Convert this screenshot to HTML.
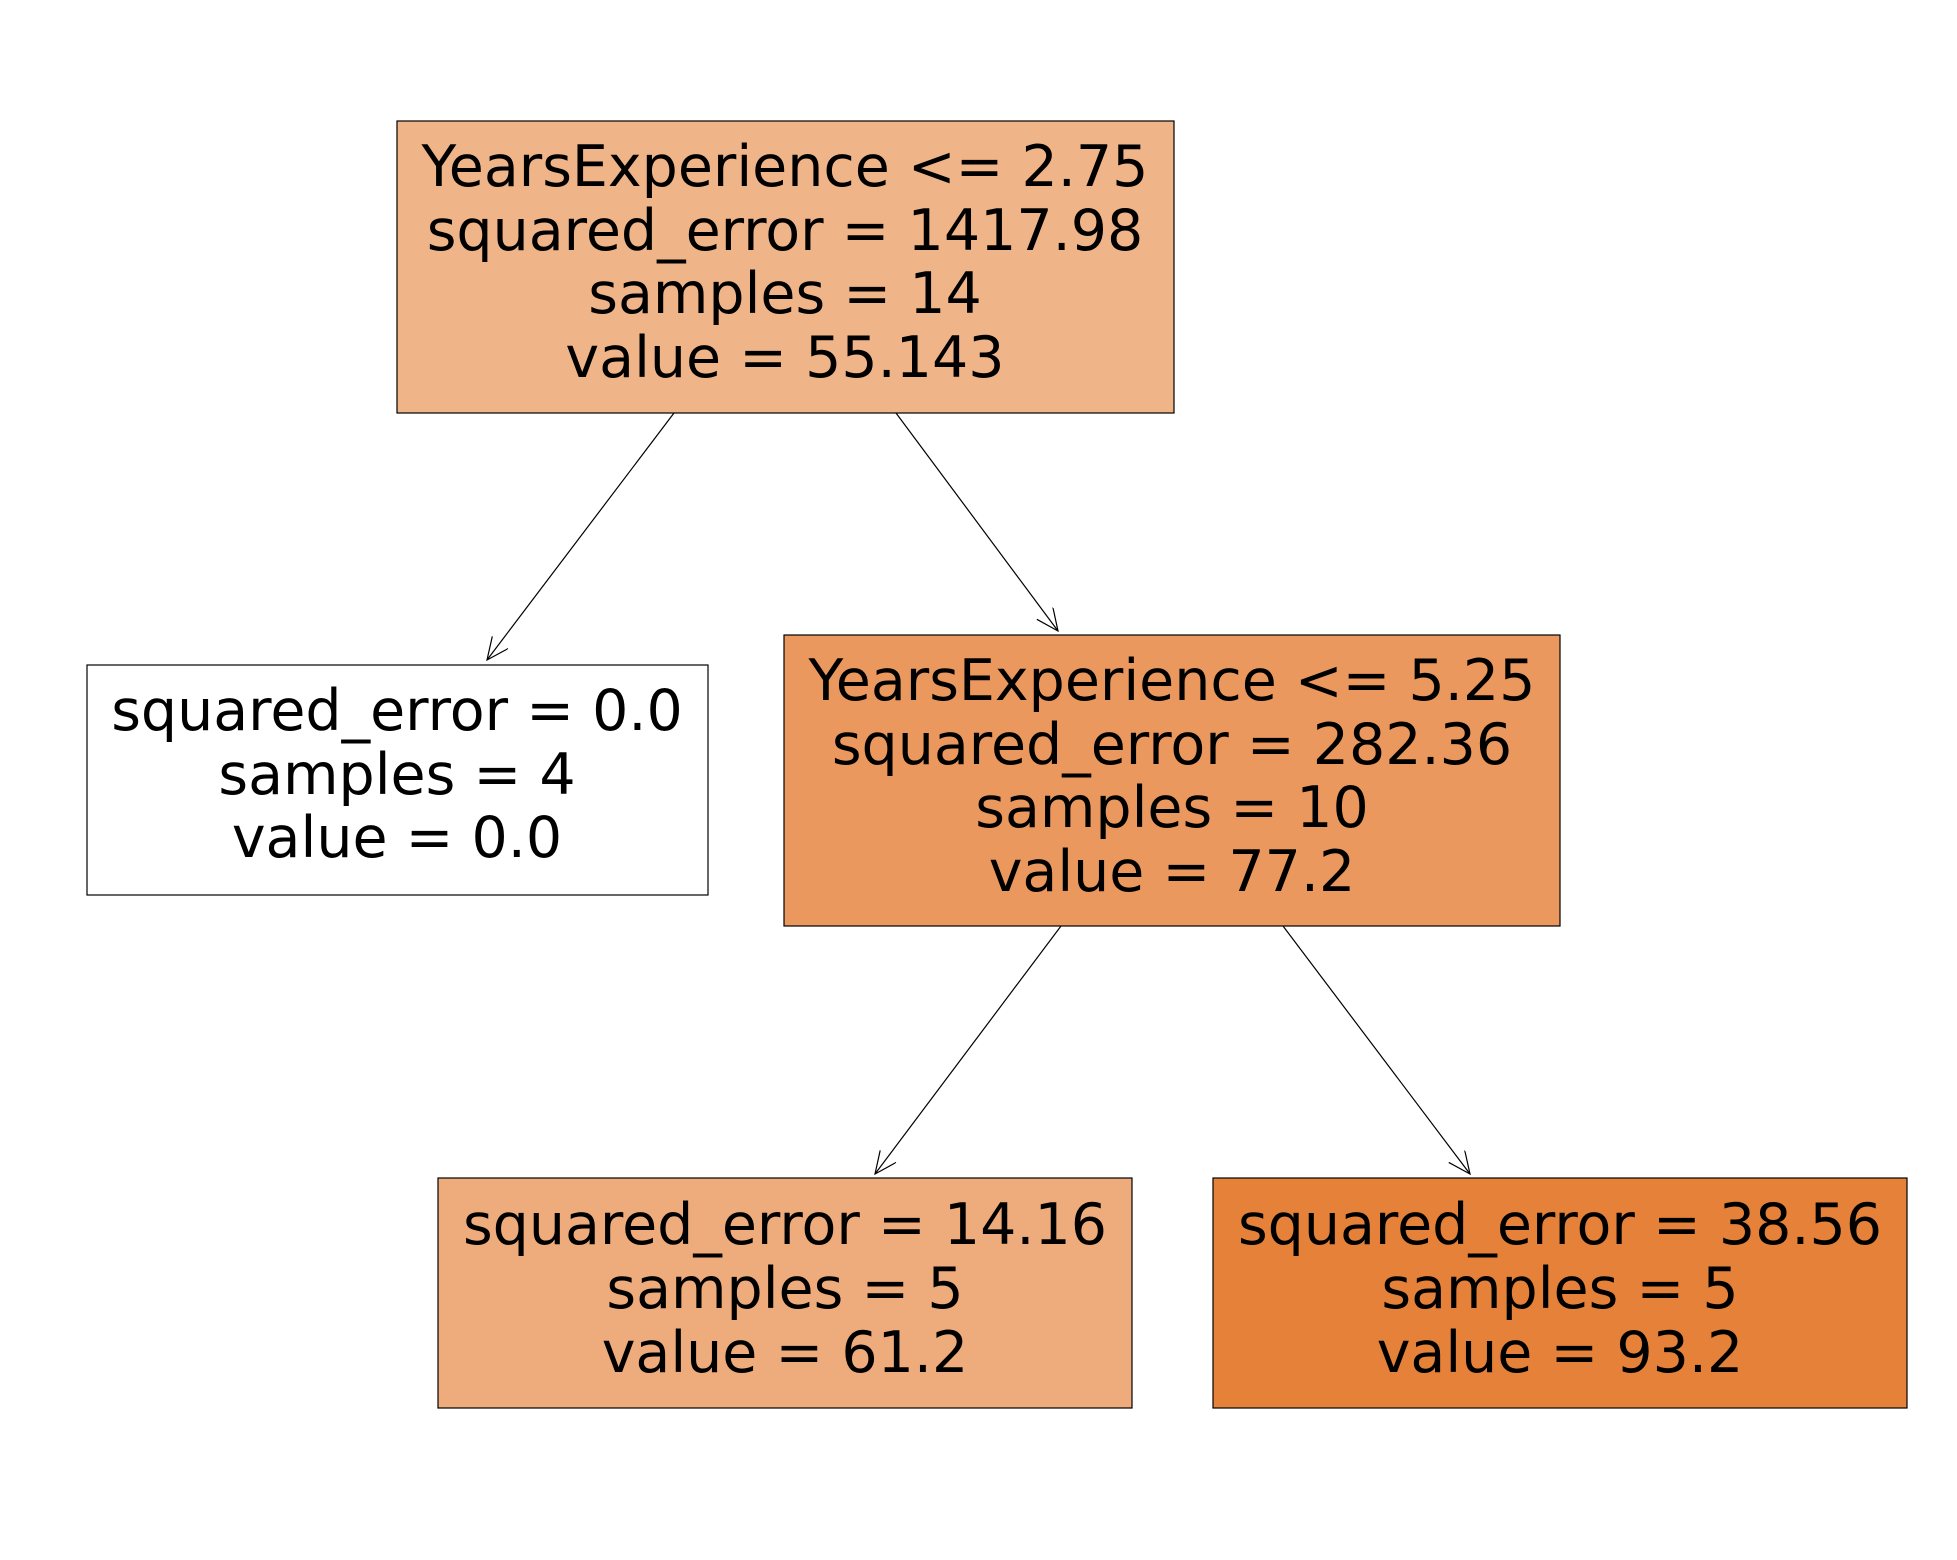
<!DOCTYPE html>
<html><head><style>body{margin:0;background:#fff}svg{display:block}text{font-family:"DejaVu Sans","Liberation Sans",sans-serif;font-size:57px;text-anchor:middle;fill:#000}</style></head>
<body>
<svg width="1957" height="1560" viewBox="0 0 1957 1560" xmlns="http://www.w3.org/2000/svg">
<defs><marker id="a" markerWidth="30" markerHeight="30" refX="24" refY="10" orient="auto" markerUnits="userSpaceOnUse"><path d="M2,0 L24,10 L2,20" fill="none" stroke="#000" stroke-width="1.2"/></marker></defs>
<g stroke="#000" stroke-width="1.2" fill="none">
<line x1="674" y1="413" x2="487" y2="660" marker-end="url(#a)"/>
<line x1="896" y1="413" x2="1058" y2="631" marker-end="url(#a)"/>
<line x1="1061" y1="926" x2="875" y2="1174" marker-end="url(#a)"/>
<line x1="1283" y1="926" x2="1470" y2="1174" marker-end="url(#a)"/>
</g>
<rect x="397" y="121" width="777" height="292" fill="#f0b489" stroke="#000" stroke-width="1.2"/>
<rect x="87" y="665" width="621" height="230" fill="#fff" stroke="#000" stroke-width="1.2"/>
<rect x="784" y="635" width="776" height="291" fill="#ea985d" stroke="#000" stroke-width="1.2"/>
<rect x="438" y="1178" width="694" height="230" fill="#eeab7b" stroke="#000" stroke-width="1.2"/>
<rect x="1213" y="1178" width="694" height="230" fill="#e58139" stroke="#000" stroke-width="1.2"/>
<text x="785" y="186">YearsExperience &lt;= 2.75</text>
<text x="785" y="250">squared_error = 1417.98</text>
<text x="785" y="313">samples = 14</text>
<text x="785" y="377">value = 55.143</text>
<text x="397" y="730">squared_error = 0.0</text>
<text x="397" y="794">samples = 4</text>
<text x="397" y="857">value = 0.0</text>
<text x="1172" y="700">YearsExperience &lt;= 5.25</text>
<text x="1172" y="764">squared_error = 282.36</text>
<text x="1172" y="827">samples = 10</text>
<text x="1172" y="891">value = 77.2</text>
<text x="785" y="1244">squared_error = 14.16</text>
<text x="785" y="1308">samples = 5</text>
<text x="785" y="1372">value = 61.2</text>
<text x="1560" y="1244">squared_error = 38.56</text>
<text x="1560" y="1308">samples = 5</text>
<text x="1560" y="1372">value = 93.2</text>
</svg>
</body></html>
